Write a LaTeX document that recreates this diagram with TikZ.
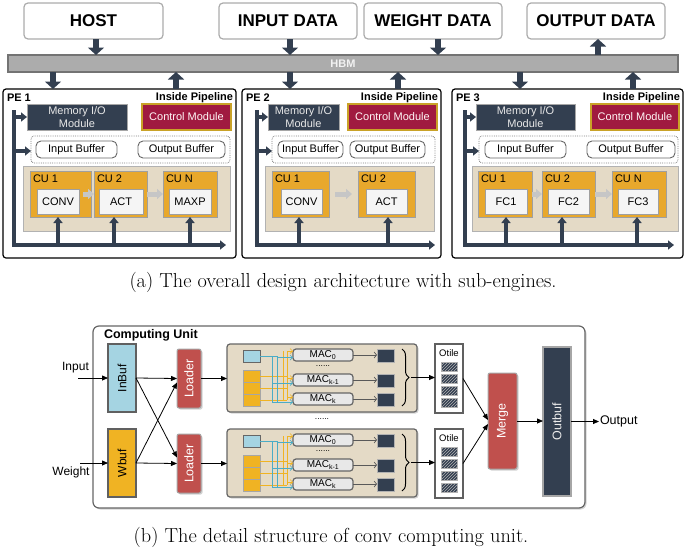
\documentclass[tikz,border=0pt]{standalone}
\usepackage{fontspec}
\setsansfont{Liberation Sans}
\usepackage{graphicx}
\usetikzlibrary{arrows.meta,shadows,decorations.pathreplacing,patterns}
\definecolor{navy}{HTML}{333F50}
\definecolor{crim}{HTML}{A01A40}
\definecolor{gold}{HTML}{C9A227}
\definecolor{cuor}{HTML}{E8A82C}
\definecolor{beige}{HTML}{E4DAC6}
\definecolor{lblue}{HTML}{A5D4E2}
\definecolor{worange}{HTML}{F0B323}
\definecolor{lred}{HTML}{C0504D}
\definecolor{teal2}{HTML}{4BACC6}
\definecolor{bordgray}{HTML}{8C8C8C}
\newcommand{\fsz}[1]{\fontsize{#1}{#1}\selectfont}
\newcommand{\boxnode}[7]{\node[#1,minimum width={(#5)-(#3)},minimum height={(#6)-(#4)}] (#2) at ({((#3)+(#5))/2},{((#4)+(#6))/2}) {#7};}
\newcommand{\macunit}[2]{%
\begin{scope}[shift={(0,#2)}]
\boxnode{redb}{#1ld}{177}{349}{201}{408}{\rotatebox{90}{Loader}}
\boxnode{macbg}{#1bg}{227}{344}{417}{412}{}
\boxnode{insq}{#1bl}{243}{350}{260}{362}{}
\boxnode{wsq}{#1w1}{243}{370}{260}{382}{}
\boxnode{wsq}{#1w2}{243}{382}{260}{394}{}
\boxnode{wsq}{#1w3}{243}{394}{260}{406}{}
\boxnode{macb}{#1m0}{293}{349}{353}{361}{MAC\textsubscript{0}}
\boxnode{macb}{#1m1}{293}{374}{353}{386}{MAC\textsubscript{k-1}}
\boxnode{macb}{#1m2}{293}{393}{353}{405}{MAC\textsubscript{k}}
\node[dotsf] (#1dt) at (323,366) {......};
\boxnode{resq}{#1r0}{377}{349}{394}{362}{}
\boxnode{resq}{#1r1}{377}{374}{394}{387}{}
\boxnode{resq}{#1r2}{377}{393}{394}{406}{}
\draw[wire,worange] (#1w1.east) -- (287,376);
\draw[wire,worange] (#1w2.east) -- (287,388);
\draw[wire,worange] (#1w3.east) -- (287,400);
\draw[wire,worange] (283,351) -- (283,400);
\draw[wire,worange] (287,351) -- (287,400);
\draw[wire,teal2] (#1bl.east) -- (277,356);
\draw[wire,teal2] (272,356) -- (272,403);
\draw[wire,teal2] (277,356) -- (277,403);
\draw[wtip,worange] (287,351) -- (#1m0.west |- 0,351);
\draw[wtip,worange] (287,378) -- (#1m1.west |- 0,378);
\draw[wtip,worange] (287,397) -- (#1m2.west |- 0,397);
\draw[wtip,teal2] (277,357.5) -- (#1m0.west |- 0,357.5);
\draw[wtip,teal2] (272,383) -- (#1m1.west |- 0,383);
\draw[wtip,teal2] (272,402) -- (#1m2.west |- 0,402);
\draw[marr] (#1m0.east) -- (#1m0.east -| #1r0.west);
\draw[marr] (#1m1.east) -- (#1m1.east -| #1r1.west);
\draw[marr] (#1m2.east) -- (#1m2.east -| #1r2.west);
\draw[brc] (402,349) -- (402,406);
\coordinate (#1bt) at (411,377.5);
\boxnode{otb}{#1ot}{435}{344}{463}{413}{}
\node[otl] (#1otl) at (449,353) {Otile};
\boxnode{hatch}{#1h1}{441}{362}{457}{371}{}
\boxnode{hatch}{#1h2}{441}{374}{457}{383}{}
\boxnode{hatch}{#1h3}{441}{386}{457}{395}{}
\boxnode{hatch}{#1h4}{441}{398}{457}{407}{}
\draw[arr] (#1bt) -- (#1ot.west |- #1bt);
\draw[arr] (#1ld.east) -- (#1ld.east -| #1bg.west);
\end{scope}}
\begin{document}
\begin{tikzpicture}[x=1pt,y=-1pt,font=\sffamily,
 base/.style={inner sep=0pt,outer sep=0pt},
 topbox/.style={base,draw=gray!65,line width=1.2pt,fill=white,rounded corners=4pt,font=\sffamily\bfseries\fsz{17}},
 hbmb/.style={base,draw=gray!90!black,line width=1.2pt,fill=gray!65,font=\sffamily\bfseries\fsz{11},text=white!90!gray},
 pebox/.style={base,draw=black,line width=1.2pt,rounded corners=3pt},
 pelbl/.style={base,font=\sffamily\bfseries\fsz{11}},
 memb/.style={base,fill=navy,draw=gray!70,line width=0.8pt,text=white!82!gray,align=center,font=\sffamily\fontsize{11}{12.5}\selectfont},
 ctlb/.style={base,fill=crim,draw=gold,line width=1.2pt,text=white!88!pink,font=\sffamily\fsz{11}},
 dashb/.style={base,draw=gray,densely dotted,line width=0.8pt,rounded corners=3pt},
 bufb/.style={base,draw=gray!80!black,line width=0.9pt,fill=white,rounded corners=5pt,font=\sffamily\fsz{11}},
 cuarea/.style={base,fill=beige,draw=gray!60,line width=1pt},
 cub/.style={base,fill=cuor,draw=gray!75,line width=1pt},
 cuin/.style={base,fill=gray!8,draw=gray!75,line width=1pt,font=\sffamily\fsz{11}},
 culbl/.style={base,font=\sffamily\fsz{11}},
 bigarr/.style={draw=navy,line width=6.5pt,-{Triangle[width=16pt,length=7.5pt]}},
 busarr/.style={draw=navy,line width=3.5pt,-{Triangle[width=9pt,length=6pt]}},
 grayarr/.style={draw=gray!45,line width=5pt,-{Triangle[width=10pt,length=6pt]}},
 outerb/.style={base,draw=gray!80!black,line width=1.2pt,fill=white,rounded corners=6pt,drop shadow={opacity=0.35,shadow xshift=1.5pt,shadow yshift=-1.5pt}},
 bufv/.style={base,draw=gray!75!black,line width=1.5pt,font=\sffamily\fsz{12}},
 redb/.style={base,fill=lred,draw=gray!70,line width=1pt,rounded corners=2pt,text=white,font=\sffamily\fsz{12.5},drop shadow={opacity=0.35,shadow xshift=1.5pt,shadow yshift=-1.5pt}},
 macbg/.style={base,fill=beige,draw=gray!80!black,line width=1.2pt,rounded corners=3pt,drop shadow={opacity=0.35,shadow xshift=1.5pt,shadow yshift=-1.5pt}},
 insq/.style={base,fill=lblue,draw=gray!80!black,line width=1pt},
 wsq/.style={base,fill=worange,draw=gray!70,line width=0.8pt},
 macb/.style={base,fill=gray!18,draw=gray!80!black,line width=1.2pt,rounded corners=3pt,font=\sffamily\fsz{10}},
 resq/.style={base,fill=navy,draw=gray!60,line width=0.8pt},
 dotsf/.style={base,font=\sffamily\fsz{8.5}},
 wire/.style={line width=0.7pt},
 wtip/.style={line width=0.7pt,-{Straight Barb[length=2.5pt,width=5pt]}},
 marr/.style={draw=gray!70!black,line width=0.7pt,-{Straight Barb[length=2.5pt,width=6pt]}},
 brc/.style={draw=black,line width=1pt,decorate,decoration={brace,amplitude=7pt}},
 otb/.style={base,fill=white,draw=gray!75!black,line width=1.2pt},
 otl/.style={base,font=\sffamily\fsz{9.5}},
 hatch/.style={base,fill=navy,draw=gray!60,line width=0.6pt,postaction={pattern=north east lines,pattern color=gray!60}},
 arr/.style={draw=black,line width=0.8pt,-{Triangle[length=6pt,width=5pt]}},
 lbl/.style={base,font=\sffamily\fsz{12}}
]
\useasboundingbox (0,0) rectangle (685,549);
% ---------- top row ----------
\boxnode{topbox}{host}{24}{3}{163}{39}{HOST}
\boxnode{topbox}{indata}{219}{3}{357}{39}{INPUT DATA}
\boxnode{topbox}{wdata}{364}{3}{502}{39}{WEIGHT DATA}
\boxnode{topbox}{odata}{527}{3}{665}{39}{OUTPUT DATA}
\boxnode{hbmb}{hbm}{8}{55}{678}{72}{HBM}
% ---------- PE boxes ----------
\boxnode{pebox}{pe1}{3}{89}{236}{258}{}
\boxnode{pebox}{pe2}{242}{89}{441}{258}{}
\boxnode{pebox}{pe3}{452}{89}{683}{258}{}
% big arrows
\coordinate (ha) at (96,0);
\coordinate (hb) at (290,0);
\coordinate (hc) at (438,0);
\coordinate (hd) at (598,0);
\coordinate (pa) at (53,0);
\coordinate (pb) at (176,0);
\coordinate (pc) at (290,0);
\coordinate (pd) at (398,0);
\coordinate (pf) at (520,0);
\coordinate (pg) at (633,0);
\draw[bigarr] (host.south -| ha) -- (hbm.north -| ha);
\draw[bigarr] (indata.south -| hb) -- (hbm.north -| hb);
\draw[bigarr] (wdata.south -| hc) -- (hbm.north -| hc);
\draw[bigarr] (hbm.north -| hd) -- (odata.south -| hd);
\draw[bigarr] (hbm.south -| pa) -- (pe1.north -| pa);
\draw[bigarr] (pe1.north -| pb) -- (hbm.south -| pb);
\draw[bigarr] (hbm.south -| pc) -- (pe2.north -| pc);
\draw[bigarr] (pe2.north -| pd) -- (hbm.south -| pd);
\draw[bigarr] (hbm.south -| pf) -- (pe3.north -| pf);
\draw[bigarr] (pe3.north -| pg) -- (hbm.south -| pg);
% ---------- PE 1 ----------
\node[pelbl,anchor=west] (pe1t) at (7,97.5) {PE 1};
\node[pelbl,anchor=east] (pe1p) at (233,98) {Inside Pipeline};
\boxnode{memb}{mem1}{27}{104}{127}{130}{Memory I/O\\Module}
\boxnode{ctlb}{ctl1}{142}{104}{231}{130}{Control Module}
\boxnode{dashb}{dsh1}{31}{136}{230}{163}{}
\boxnode{bufb}{ib1}{36}{141}{117}{158}{Input Buffer}
\boxnode{bufb}{ob1}{138}{141}{225}{158}{Output Buffer}
\boxnode{cuarea}{cua1}{23}{166}{230}{231}{}
\boxnode{cub}{cu11}{30}{171}{91}{217}{}
\boxnode{cub}{cu12}{94}{171}{147}{217}{}
\boxnode{cub}{cu13}{163}{171}{217}{217}{}
\boxnode{cuin}{in11}{37}{189}{79}{214}{CONV}
\boxnode{cuin}{in12}{99}{189}{143}{214}{ACT}
\boxnode{cuin}{in13}{169}{189}{211}{214}{MAXP}
\node[culbl,anchor=north west] (l11) at ([xshift=3pt,yshift=-3.5pt]cu11.north west) {CU 1};
\node[culbl,anchor=north west] (l12) at ([xshift=3pt,yshift=-3.5pt]cu12.north west) {CU 2};
\node[culbl,anchor=north west] (l13) at ([xshift=3pt,yshift=-3.5pt]cu13.north west) {CU N};
\draw[grayarr] ([xshift=-8pt]cu11.east) -- (cu12.west);
\draw[grayarr] (cu12.east) -- (cu13.west);
\coordinate (v1t) at (14,110);
\coordinate (v1b) at (14,245);
\coordinate (v1e) at (226,245);
\draw[busarr] (v1t) -- (v1b) -- (v1e);
\draw[busarr] (v1t |- mem1.west) -- (mem1.west);
\draw[busarr] (v1t |- 0,151) -- (dsh1.west |- 0,151);
\coordinate (u11) at (58,245);
\coordinate (u12) at (114,245);
\coordinate (u13) at (190,245);
\draw[busarr] (u11) -- (u11 |- cu11.south);
\draw[busarr] (u12) -- (u12 |- cu12.south);
\draw[busarr] (u13) -- (u13 |- cu13.south);
% ---------- PE 2 ----------
\node[pelbl,anchor=west] (pe2t) at (246,97.5) {PE 2};
\node[pelbl,anchor=east] (pe2p) at (438,98) {Inside Pipeline};
\boxnode{memb}{mem2}{268}{104}{339}{130}{Memory I/O\\Module}
\boxnode{ctlb}{ctl2}{348}{104}{437}{130}{Control Module}
\boxnode{dashb}{dsh2}{272}{136}{435}{163}{}
\boxnode{bufb}{ib2}{278}{141}{343}{158}{Input Buffer}
\boxnode{bufb}{ob2}{350}{141}{425}{158}{Output Buffer}
\boxnode{cuarea}{cua2}{265}{166}{434}{231}{}
\boxnode{cub}{cu21}{272}{171}{329}{217}{}
\boxnode{cub}{cu22}{358}{171}{415}{217}{}
\boxnode{cuin}{in21}{281}{189}{322}{214}{CONV}
\boxnode{cuin}{in22}{366}{189}{407}{214}{ACT}
\node[culbl,anchor=north west] (l21) at ([xshift=3pt,yshift=-3.5pt]cu21.north west) {CU 1};
\node[culbl,anchor=north west] (l22) at ([xshift=3pt,yshift=-3.5pt]cu22.north west) {CU 2};
\draw[grayarr] ([xshift=6pt]cu21.east) -- ([xshift=-6pt]cu22.west);
\coordinate (v2t) at (257,110);
\coordinate (v2b) at (257,245);
\coordinate (v2e) at (435,245);
\draw[busarr] (v2t) -- (v2b) -- (v2e);
\draw[busarr] (v2t |- mem2.west) -- (mem2.west);
\draw[busarr] (v2t |- 0,151) -- (dsh2.west |- 0,151);
\coordinate (u21) at (299,245);
\coordinate (u22) at (388,245);
\draw[busarr] (u21) -- (u21 |- cu21.south);
\draw[busarr] (u22) -- (u22 |- cu22.south);
% ---------- PE 3 ----------
\node[pelbl,anchor=west] (pe3t) at (456,97.5) {PE 3};
\node[pelbl,anchor=east] (pe3p) at (680,98) {Inside Pipeline};
\boxnode{memb}{mem3}{476}{104}{575}{130}{Memory I/O\\Module}
\boxnode{ctlb}{ctl3}{591}{104}{679}{130}{Control Module}
\boxnode{dashb}{dsh3}{479}{136}{678}{163}{}
\boxnode{bufb}{ib3}{485}{141}{566}{158}{Input Buffer}
\boxnode{bufb}{ob3}{587}{141}{675}{158}{Output Buffer}
\boxnode{cuarea}{cua3}{472}{166}{678}{231}{}
\boxnode{cub}{cu31}{478}{171}{532}{217}{}
\boxnode{cub}{cu32}{542}{171}{595}{217}{}
\boxnode{cub}{cu33}{612}{171}{666}{217}{}
\boxnode{cuin}{in31}{485}{189}{527}{214}{FC1}
\boxnode{cuin}{in32}{548}{189}{589}{214}{FC2}
\boxnode{cuin}{in33}{618}{189}{658}{214}{FC3}
\node[culbl,anchor=north west] (l31) at ([xshift=3pt,yshift=-3.5pt]cu31.north west) {CU 1};
\node[culbl,anchor=north west] (l32) at ([xshift=3pt,yshift=-3.5pt]cu32.north west) {CU 2};
\node[culbl,anchor=north west] (l33) at ([xshift=3pt,yshift=-3.5pt]cu33.north west) {CU N};
\draw[grayarr] (cu31.east) -- (cu32.west);
\draw[grayarr] (cu32.east) -- (cu33.west);
\coordinate (v3t) at (465,110);
\coordinate (v3b) at (465,245);
\coordinate (v3e) at (674,245);
\draw[busarr] (v3t) -- (v3b) -- (v3e);
\draw[busarr] (v3t |- mem3.west) -- (mem3.west);
\draw[busarr] (v3t |- 0,151) -- (dsh3.west |- 0,151);
\coordinate (u31) at (506,245);
\coordinate (u32) at (562,245);
\coordinate (u33) at (637,245);
\draw[busarr] (u31) -- (u31 |- cu31.south);
\draw[busarr] (u32) -- (u32 |- cu32.south);
\draw[busarr] (u33) -- (u33 |- cu33.south);
% ---------- caption a ----------
\node[base,font=\rmfamily\fsz{20.3}] (capa) at (343,282.5) {(a) The overall design architecture with sub-engines.};
% ---------- bottom diagram ----------
\boxnode{outerb}{cunit}{93}{326}{585}{508}{}
\node[base,anchor=west,font=\sffamily\bfseries\fsz{12.5}] (cutitle) at (104,335.5) {Computing Unit};
\boxnode{bufv,fill=lblue}{inbuf}{108}{344}{136}{412}{\rotatebox{90}{InBuf}}
\boxnode{bufv,fill=worange}{wbuf}{108}{429}{136}{497}{\rotatebox{90}{Wbuf}}
\node[lbl] (inlbl) at (75.5,367.5) {Input};
\node[lbl] (wlbl) at (71,472) {Weight};
\coordinate (inpt) at (78,378);
\coordinate (wpt) at (80,463);
\draw[arr] (inpt) -- (inbuf.west);
\draw[arr] (wpt) -- (wbuf.west);
\macunit{a}{0}
\macunit{b}{85}
\draw[arr] (inbuf.east) -- (ald.west);
\draw[arr] (inbuf.east) -- ([yshift=6pt]bld.west);
\draw[arr] (wbuf.east) -- ([yshift=-4pt]ald.west);
\draw[arr] (wbuf.east) -- (bld.west);
\node[dotsf] (mdots) at (322,419) {......};
\boxnode{redb}{merge}{488}{373}{517}{469}{\rotatebox{90}{Merge}}
\boxnode{bufv,fill=navy,text=white!85!gray,draw=gray!70,font=\sffamily\fsz{12.5}}{outbuf}{543}{347}{571}{496}{\rotatebox{90}{Outbuf}}
\draw[arr] (aot.east) -- ([yshift=1pt]merge.west);
\draw[arr] (bot.east) -- ([yshift=-3pt]merge.west);
\draw[arr] (merge.east) -- (merge.east -| outbuf.west);
\node[lbl,anchor=west,inner sep=1pt,font=\sffamily\fsz{12.5}] (outlbl) at (599,421.5) {Output};
\draw[arr] (outbuf.east |- outlbl.west) -- (outlbl.west);
% ---------- caption b ----------
\node[base,font=\rmfamily\fsz{20.3}] (capb) at (331,537) {(b) The detail structure of conv computing unit.};
\end{tikzpicture}
\end{document}
